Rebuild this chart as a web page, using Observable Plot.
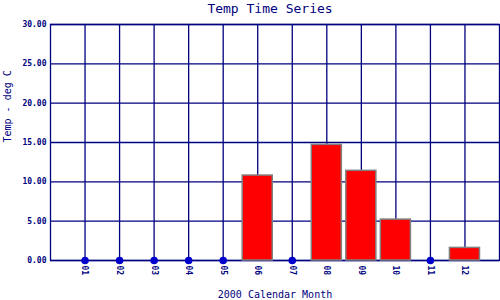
<!DOCTYPE html>
<html>
<head>
<meta charset="utf-8">
<script src="https://cdn.jsdelivr.net/npm/d3@7"></script>
<script src="https://cdn.jsdelivr.net/npm/@observablehq/plot@0.6"></script>
<style>
  html, body { margin: 0; padding: 0; background: #fff; }
  svg { display: block; }
</style>
</head>
<body>
<div id="chart"></div>
<script>
const months = ["01","02","03","04","05","06","07","08","09","10","11","12"];
const temps = [null, null, null, null, null, 10.8, null, 14.7, 11.4, 5.2, null, 1.6];
const yTicks = [0, 5, 10, 15, 20, 25, 30];
const title = "Temp Time Series";
const xLabel = "2000 Calendar Month";
const yLabel = "Temp - deg C";

const data = months.map((m, i) => ({month: m, temp: temps[i]}));
const bars = data.filter(d => d.temp != null);
const missing = data.filter(d => d.temp == null);

const navy = "#000080";
const font = "DejaVu Sans Mono, monospace";

const chart = Plot.plot({
  width: 500,
  height: 300,
  marginLeft: 50,
  marginRight: 1,
  marginTop: 24,
  marginBottom: 40,
  style: {fontFamily: font, color: navy, background: "#fff"},
  x: {type: "band", domain: months, paddingInner: 0.13, paddingOuter: 0.565, round: false, axis: null, label: null},
  y: {domain: [0, 30], label: null},
  marks: [
    Plot.gridX(months, {stroke: navy, strokeOpacity: 1, strokeWidth: 1.3}),
    Plot.gridY(yTicks, {stroke: navy, strokeOpacity: 1, strokeWidth: 1.3}),
    Plot.frame({stroke: navy, strokeWidth: 1.3}),
    Plot.barY(bars, {x: "month", y: "temp", fill: "#ff0000", stroke: "#808080", strokeWidth: 1.5}),
    Plot.dot(missing, {x: "month", y: 0, r: 3.8, fill: "#0000cc", stroke: "none"}),
    Plot.axisY(yTicks, {tickSize: 0, tickPadding: 4, tickFormat: d => d.toFixed(2), fontSize: 8, fontWeight: "bold", fill: navy, label: null}),
    Plot.text(months, {x: d => d, frameAnchor: "bottom", dy: 5, rotate: 90, textAnchor: "start", lineAnchor: "middle", fontSize: 8, fontWeight: "bold", fill: navy, text: d => d}),
    Plot.text([title], {frameAnchor: "top", dx: -5, dy: -16, lineAnchor: "middle", fontSize: 13, fill: navy, text: d => d}),
    Plot.text([xLabel], {frameAnchor: "bottom", dy: 34, lineAnchor: "middle", fontSize: 10, fill: navy, text: d => d}),
    Plot.text([yLabel], {frameAnchor: "left", dx: -43, rotate: -90, fontSize: 10, fill: navy, text: d => d})
  ]
});
document.getElementById("chart").append(chart);
</script>
</body>
</html>
